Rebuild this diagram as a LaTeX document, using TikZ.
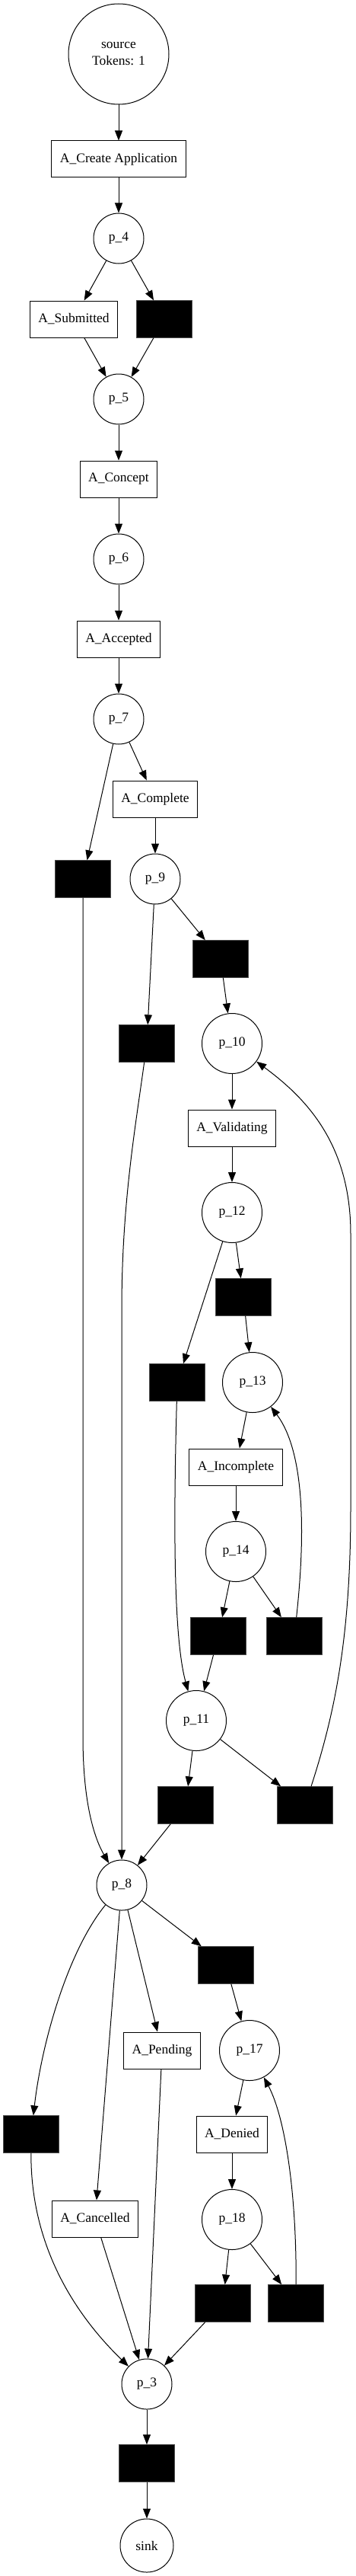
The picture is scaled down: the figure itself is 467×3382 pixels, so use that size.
\documentclass[tikz,border=0pt]{standalone}
\usepackage{fontspec}
\setmainfont{Liberation Serif}
\usetikzlibrary{arrows.meta}

\begin{document}
\begin{tikzpicture}[x=1pt,y=-1pt,
every node/.style={font=\fontsize{17.5}{22}\selectfont},
place/.style={circle,draw,line width=1pt,minimum size=66pt,inner sep=0pt},
bigplace/.style={place,minimum size=79pt},
trans/.style={rectangle,draw,line width=1pt,minimum height=48pt,inner xsep=11pt},
silent/.style={rectangle,fill=black,draw=black!70,minimum width=73pt,minimum height=49pt,inner sep=0pt},
arc/.style={-{Triangle[length=13pt,width=10pt]},line width=1pt}]
\useasboundingbox (0,0) rectangle (467,3382);
% places
\node[place,minimum size=132pt,align=center](source)at(156,71){source\\Tokens: 1};
\node[place](p4)at(156,313){p\_4};
\node[place](p5)at(156,524){p\_5};
\node[place](p6)at(156,734){p\_6};
\node[place](p7)at(156,944){p\_7};
\node[place](p9)at(204,1154){p\_9};
\node[bigplace](p10)at(305,1370){p\_10};
\node[bigplace](p12)at(305,1592){p\_12};
\node[bigplace](p13)at(332,1815){p\_13};
\node[bigplace](p14)at(310,2037){p\_14};
\node[bigplace](p11)at(258,2259){p\_11};
\node[place](p8)at(160,2475){p\_8};
\node[bigplace](p17)at(328,2692){p\_17};
\node[bigplace](p18)at(305,2914){p\_18};
\node[place](p3)at(193,3130){p\_3};
\node[place,minimum size=70pt](sink)at(193,3342){sink};
% transitions
\node[trans](create)at(156,209){A\_Create Application};
\node[trans](submitted)at(97,419){A\_Submitted};
\node[silent](tfour)at(216,419){};
\node[trans](concept)at(156,629){A\_Concept};
\node[trans](accepted)at(156,839){A\_Accepted};
\node[trans](complete)at(204,1049){A\_Complete};
\node[silent](tseven)at(109,1154){};
\node[silent](tninel)at(193,1370){};
\node[silent](tniner)at(290,1259){};
\node[trans](validating)at(305,1481){A\_Validating};
\node[silent](ttwelvel)at(233,1815){};
\node[silent](ttwelver)at(320,1703){};
\node[trans](incomplete)at(310,1926){A\_Incomplete};
\node[silent](tfourteenl)at(287,2148){};
\node[silent](tfourteenr)at(387,2148){};
\node[silent](televenl)at(244,2370){};
\node[silent](televenr)at(401,2370){};
\node[silent](teightl)at(41,2802){};
\node[trans](cancelled)at(125,2913){A\_Cancelled};
\node[trans](pending)at(213,2692){A\_Pending};
\node[silent](teightr)at(297,2580){};
\node[trans](denied)at(305,2802){A\_Denied};
\node[silent](teighteenl)at(293,3024){};
\node[silent](teighteenr)at(389,3024){};
\node[silent](tend)at(193,3234){};
% arcs
\draw[arc](source)--(create);
\draw[arc](create)--(p4);
\draw[arc](p4)--(submitted);
\draw[arc](p4)--(tfour);
\draw[arc](submitted)--(p5);
\draw[arc](tfour)--(p5);
\draw[arc](p5)--(concept);
\draw[arc](concept)--(p6);
\draw[arc](p6)--(accepted);
\draw[arc](accepted)--(p7);
\draw[arc](p7)--(complete);
\draw[arc](p7)--(tseven);
\draw[arc](complete)--(p9);
\draw[arc](tseven)--(109,2280)..controls(109,2370)and(125,2415)..(p8);
\draw[arc](p9)--(tninel);
\draw[arc](p9)--(tniner);
\draw[arc](tniner)--(p10);
\draw[arc](tninel)..controls(178,1480)and(160,1580)..(160,1720)--(p8);
\draw[arc](p10)--(validating);
\draw[arc](validating)--(p12);
\draw[arc](p12)--(ttwelvel);
\draw[arc](p12)--(ttwelver);
\draw[arc](ttwelver)--(p13);
\draw[arc](ttwelvel)..controls(228,2000)and(228,2150)..(p11);
\draw[arc](p13)--(incomplete);
\draw[arc](incomplete)--(p14);
\draw[arc](p14)--(tfourteenl);
\draw[arc](p14)--(tfourteenr);
\draw[arc](tfourteenl)--(p11);
\draw[arc](tfourteenr)..controls(402,2010)and(400,1905)..(p13);
\draw[arc](p11)--(televenl);
\draw[arc](p11)--(televenr);
\draw[arc](televenl)--(p8);
\draw[arc](televenr)..controls(440,2250)and(461,2150)..(461,1980)--(461,1620)
..controls(461,1500)and(400,1440)..(p10);
\draw[arc](p8)..controls(90,2560)and(55,2680)..(teightl);
\draw[arc](p8)--(cancelled);
\draw[arc](p8)--(pending);
\draw[arc](p8)--(teightr);
\draw[arc](teightr)--(p17);
\draw[arc](p17)--(denied);
\draw[arc](denied)--(p18);
\draw[arc](p18)--(teighteenl);
\draw[arc](p18)--(teighteenr);
\draw[arc](teighteenr)..controls(390,2880)and(375,2780)..(p17);
\draw[arc](teightl)..controls(40,2950)and(100,3040)..(p3);
\draw[arc](cancelled)--(p3);
\draw[arc](pending)--(p3);
\draw[arc](teighteenl)--(p3);
\draw[arc](p3)--(tend);
\draw[arc](tend)--(sink);
\end{tikzpicture}
\end{document}
